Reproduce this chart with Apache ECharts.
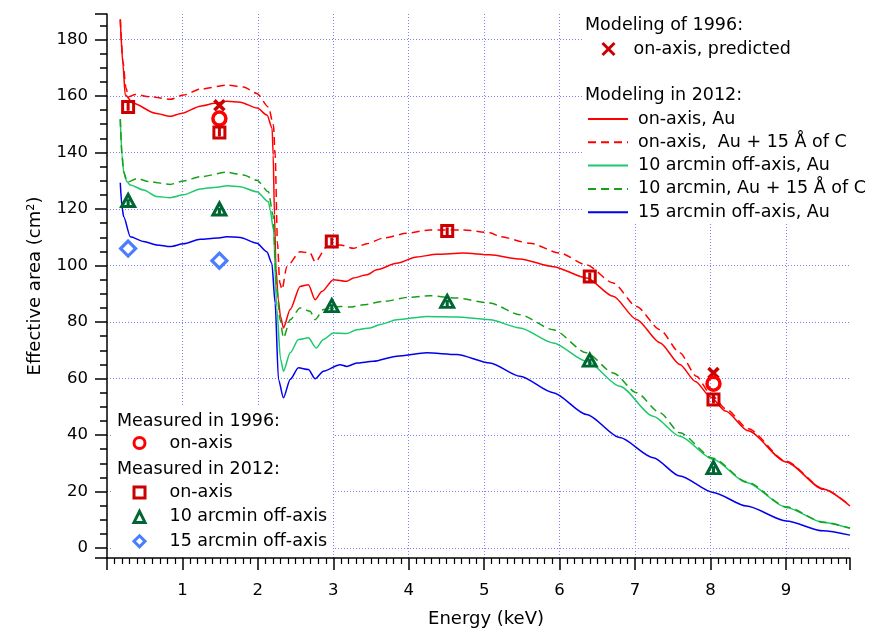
<!DOCTYPE html>
<html><head><meta charset="utf-8">
<script src="https://cdn.jsdelivr.net/npm/echarts@6/dist/echarts.min.js"></script>
<style>html,body{margin:0;padding:0;background:#fff}#c{width:876px;height:633px}</style>
</head><body><div id="c"></div>
<script>
// ---- Data ----
// Modeling in 2012: on-axis, Au
const onAxisAuE = [0.176,0.212,0.242,0.348,0.64,0.838,0.997,1.236,1.434,1.593,1.766,1.991,2.123,2.189,2.203,2.22,2.24,2.27,2.3,2.339,2.428,2.56,2.67,2.759,2.848,3.0,3.179,3.266,3.444,3.576,3.841,4.106,4.371,4.723,5.077,5.474,5.915,6.358,6.71,7.02,7.329,7.594,7.8,8.0,8.2,8.5,9.0,9.5,9.85];
const onAxisAuA = [187.1,171,160.3,157.4,153.9,152.8,153.9,156.4,157.4,158.1,157.8,155.7,153.2,148.6,139.1,118,99,88,82,77.9,84.4,92.6,93.2,87.9,90.8,95.0,94.4,95.6,96.7,98.5,100.8,103.0,104.0,104.4,103.8,102.3,99.6,95.6,89.1,80.9,72.7,65.0,59,53.5,48.5,41.5,30.5,20.8,14.9];
// on-axis, Au + 15 Å of C
const onAxisCE = [0.176,0.212,0.25,0.286,0.376,0.574,0.838,1.015,1.236,1.589,1.809,1.987,2.14,2.207,2.229,2.26,2.29,2.32,2.384,2.56,2.693,2.76,2.914,3.09,3.266,3.444,3.664,3.974,4.282,4.723,5.077,5.209,5.606,6.003,6.358,6.71,7.02,7.329,7.594,7.815,8.0,8.212,8.5,9.0,9.5,9.85];
const onAxisCA = [187.1,172,163,159.7,160.5,159.7,158.8,160.3,162.4,163.8,163.2,160.9,156.1,149.7,139.1,108,94,91.5,99.6,104.9,104.4,101.2,106.7,107.3,106.1,107.7,109.7,111.4,112.6,112.6,111.6,110.2,107.9,104.4,100.2,93.8,85.5,77.3,69.1,60.8,54.5,49.1,42.2,30.8,21.0,15.0];
// 10 arcmin off-axis, Au
const off10AuE = [0.176,0.199,0.22,0.265,0.309,0.485,0.662,0.838,1.015,1.236,1.457,1.589,1.766,1.987,2.14,2.163,2.207,2.25,2.3,2.339,2.428,2.538,2.67,2.772,2.869,3.0,3.179,3.311,3.487,3.62,3.841,4.238,4.636,5.077,5.474,5.915,6.358,6.798,7.24,7.594,8.034,8.477,9.007,9.491,9.85];
const off10AuA = [151.8,139,133.2,129.6,128.5,126.7,124.4,124.0,125.0,127.1,127.7,128.2,127.9,126.1,122.6,119.7,112.6,85,67,62.6,69.1,73.8,74.4,70.8,73.8,76.1,75.9,77.3,77.9,79.1,80.8,82.0,81.8,80.8,77.9,72.6,66.1,57.3,46.7,39.6,31.4,23.2,14.4,9.1,7.0];
// 10 arcmin, Au + 15 Å of C
const off10CE = [0.176,0.199,0.22,0.265,0.286,0.397,0.574,0.838,1.015,1.236,1.589,1.809,1.987,2.14,2.2,2.25,2.295,2.339,2.428,2.56,2.693,2.759,2.869,3.09,3.222,3.399,3.664,4.017,4.282,4.636,5.077,5.474,5.915,6.358,6.71,7.02,7.329,7.594,8.034,8.477,9.007,9.491,9.85];
const off10CA = [151.8,139,133.2,129.6,129.6,130.8,129.6,128.7,129.9,131.4,133.0,132.0,130.2,126.1,118,92,80.8,74.4,80.8,85.0,83.8,80.8,84.4,85.5,85.3,86.1,87.3,88.8,89.3,88.5,86.7,82.6,77.3,69.1,62.0,55.0,47.9,40.8,31.8,23.5,14.6,9.2,7.1];
// 15 arcmin off-axis, Au
const off15AuE = [0.176,0.199,0.22,0.309,0.485,0.662,0.838,1.015,1.236,1.457,1.589,1.766,1.987,2.119,2.185,2.229,2.273,2.339,2.428,2.538,2.67,2.759,2.869,3.09,3.179,3.311,3.531,3.841,4.238,4.636,5.077,5.474,5.915,6.358,6.798,7.24,7.594,8.034,8.477,9.007,9.491,9.85];
const off15AuA = [129.3,120.8,117.3,110.2,108.5,107.3,106.7,107.7,109.3,109.7,110.2,109.9,107.9,104.9,100.8,86.7,59.7,53.2,59.7,63.8,63.2,59.9,62.6,64.9,64.3,65.5,66.1,67.9,69.1,68.5,65.5,60.8,55.0,47.3,39.1,32.0,25.5,19.7,14.9,9.6,6.1,4.6];
// Modeling of 1996: on-axis, predicted
const pred1996E = [1.49, 8.04];
const pred1996A = [156.7, 62.0];
// Measured in 1996: on-axis
const meas1996E = [1.49, 8.04];
const meas1996A = [152.0, 58.2];
// Measured in 2012
const meas2012OnE = [0.28, 1.49, 2.98, 4.51, 6.40, 8.04];
const meas2012OnA = [156.1, 147.1, 108.5, 112.2, 96.1, 52.6];
const meas2012Off10E = [0.28, 1.49, 2.98, 4.51, 6.40, 8.04];
const meas2012Off10A = [123.0, 120.0, 85.8, 87.3, 66.5, 28.5];
const meas2012Off15E = [0.28, 1.49];
const meas2012Off15A = [106.0, 101.7];
// Axis tick labels
const xTickLabels = [1,2,3,4,5,6,7,8,9];
const yTickLabels = [0,20,40,60,80,100,120,140,160,180];

// ---- Chart ----
const FONT = 'DejaVu Sans';
const zip = (e, a) => e.map((x, i) => [x, a[i]]);
const chart = echarts.init(document.getElementById('c'), null, {renderer: 'canvas'});

const lineSeries = (name, e, a, color, dashed) => ({
  name, type: 'line', data: zip(e, a), symbol: 'none', smooth: 0.25, smoothMonotone: 'x',
  color, lineStyle: {color, width: 1.5, type: dashed ? [8, 5] : 'solid'}, z: 3, animation: false
});
const scatterSeries = (name, e, a, symbol, size, color, bw) => ({
  name, type: 'scatter', data: zip(e, a), symbol, symbolSize: size,
  itemStyle: {color: 'rgba(255,255,255,0)', borderColor: color, borderWidth: bw, opacity: 1}, z: 5, animation: false
});

const SQ = 'path://M0,0H10V10H0Z M5,1.5V8.5';
const TRI = 'path://M5,0L10,9L0,9Z M5,3.5V8';
const CROSS = 'path://M0,0L10,10M10,0L0,10';

const legendText = {fontSize: 17.5, fontFamily: FONT, color: '#000'};
const stripYear = n => n.replace(/ \(\d{4}\)$/, '');

const option = {
  backgroundColor: '#fff',
  animation: false,
  grid: {left: 107, right: 26, top: 14, bottom: 74, containLabel: false},
  xAxis: {
    type: 'value', min: 0, max: 9.85, splitNumber: 10, minInterval: 1, maxInterval: 1,
    axisLine: {onZero: false, lineStyle: {color: '#000', width: 1.5}},
    axisTick: {length: 12, lineStyle: {color: '#000', width: 1.5}},
    minorTick: {show: true, splitNumber: 10, length: 6, lineStyle: {color: '#000', width: 1.2}},
    axisLabel: {margin: 24, fontSize: 16.5, fontFamily: FONT, color: '#000',
      formatter: v => (xTickLabels.indexOf(v) >= 0 ? String(v) : '')},
    splitLine: {show: true, showMinLine: false, showMaxLine: false, lineStyle: {color: '#8080ff', width: 1, type: [1, 2]}},
    name: 'Energy (keV)', nameLocation: 'middle', nameGap: 52,
    nameTextStyle: {fontSize: 18, fontFamily: FONT, color: '#000', padding: [0, 0, 0, 15]}
  },
  yAxis: {
    type: 'value', min: -3.5, max: 189, splitNumber: 10, minInterval: 20, maxInterval: 20,
    axisLine: {onZero: false, lineStyle: {color: '#000', width: 1.5}},
    axisTick: {length: 12, lineStyle: {color: '#000', width: 1.5}},
    minorTick: {show: true, splitNumber: 4, length: 7, lineStyle: {color: '#000', width: 1.5}},
    axisLabel: {margin: 19, fontSize: 16.5, fontFamily: FONT, color: '#000',
      formatter: v => (yTickLabels.indexOf(v) >= 0 ? String(v) : '')},
    splitLine: {show: true, showMinLine: false, showMaxLine: false, lineStyle: {color: '#8080ff', width: 1, type: [1, 2]}},
    name: 'Effective area (cm²)', nameLocation: 'middle', nameGap: 63,
    nameTextStyle: {fontSize: 18, fontFamily: FONT, color: '#000'}
  },
  legend: [
    {data: [{name: 'on-axis, predicted', icon: CROSS}], left: 601, top: 40, orient: 'vertical', padding: 0,
      itemWidth: 12, itemHeight: 12, selectedMode: false, itemStyle: {borderWidth: 3},
      textStyle: Object.assign({padding: [0, 0, 0, 14]}, legendText), z: 10},
    {data: ['on-axis, Au', 'on-axis,  Au + 15 Å of C', '10 arcmin off-axis, Au', '10 arcmin, Au + 15 Å of C', '15 arcmin off-axis, Au'],
      left: 587, top: 110, orient: 'vertical', padding: 0, itemWidth: 40, itemHeight: 14, itemGap: 5.3, selectedMode: false,
      itemStyle: {opacity: 0, color: 'rgba(0,0,0,0)', borderWidth: 0},
      textStyle: Object.assign({padding: [0, 0, 0, 5]}, legendText), z: 10},
    {data: [{name: 'on-axis (1996)', icon: 'circle'}], left: 132.5, top: 434, orient: 'vertical', padding: 0,
      itemWidth: 11, itemHeight: 11, selectedMode: false, formatter: stripYear, itemStyle: {borderWidth: 3},
      textStyle: Object.assign({padding: [0, 0, 0, 19.5]}, legendText), z: 10},
    {data: [{name: 'on-axis (2012)', icon: 'rect'}, {name: '10 arcmin off-axis', icon: 'triangle'}, {name: '15 arcmin off-axis', icon: 'diamond'}],
      left: 132.5, top: 483.5, orient: 'vertical', padding: 0, itemWidth: 11, itemHeight: 11, itemGap: 6.4,
      selectedMode: false, formatter: stripYear, itemStyle: {borderWidth: 3},
      textStyle: Object.assign({padding: [0, 0, 0, 19.5]}, legendText), z: 10}
  ],
  graphic: [
    {type: 'rect', z: 1, shape: {x: 583, y: 3, width: 293, height: 219}, style: {fill: '#fff'}},
    {type: 'rect', z: 1, shape: {x: 113, y: 405, width: 220, height: 152}, style: {fill: '#fff'}},
    {type: 'text', z: 10, style: {text: 'Modeling of 1996:', x: 585, y: 25, fill: '#000', font: '17.5px "DejaVu Sans"', verticalAlign: 'middle'}},
    {type: 'text', z: 10, style: {text: 'Modeling in 2012:', x: 585, y: 95, fill: '#000', font: '17.5px "DejaVu Sans"', verticalAlign: 'middle'}},
    {type: 'text', z: 10, style: {text: 'Measured in 1996:', x: 117, y: 421, fill: '#000', font: '17.5px "DejaVu Sans"', verticalAlign: 'middle'}},
    {type: 'text', z: 10, style: {text: 'Measured in 2012:', x: 117, y: 469, fill: '#000', font: '17.5px "DejaVu Sans"', verticalAlign: 'middle'}}
  ],
  series: [
    lineSeries('on-axis, Au', onAxisAuE, onAxisAuA, '#ff0000', false),
    lineSeries('on-axis,  Au + 15 Å of C', onAxisCE, onAxisCA, '#ff0000', true),
    lineSeries('10 arcmin off-axis, Au', off10AuE, off10AuA, '#1ec96e', false),
    lineSeries('10 arcmin, Au + 15 Å of C', off10CE, off10CA, '#16a016', true),
    lineSeries('15 arcmin off-axis, Au', off15AuE, off15AuA, '#0000ee', false),
    scatterSeries('on-axis, predicted', pred1996E, pred1996A, CROSS, 10, '#cc0000', 3.5),
    scatterSeries('on-axis (1996)', meas1996E, meas1996A, 'circle', 13, '#ff0000', 3.5),
    scatterSeries('on-axis (2012)', meas2012OnE, meas2012OnA, SQ, 11, '#cc0000', 3),
    scatterSeries('10 arcmin off-axis', meas2012Off10E, meas2012Off10A, TRI, [13, 12], '#006633', 3),
    scatterSeries('15 arcmin off-axis', meas2012Off15E, meas2012Off15A, 'diamond', [15, 15], '#4a7dff', 3.2)
  ]
};
chart.setOption(option);
</script></body></html>
